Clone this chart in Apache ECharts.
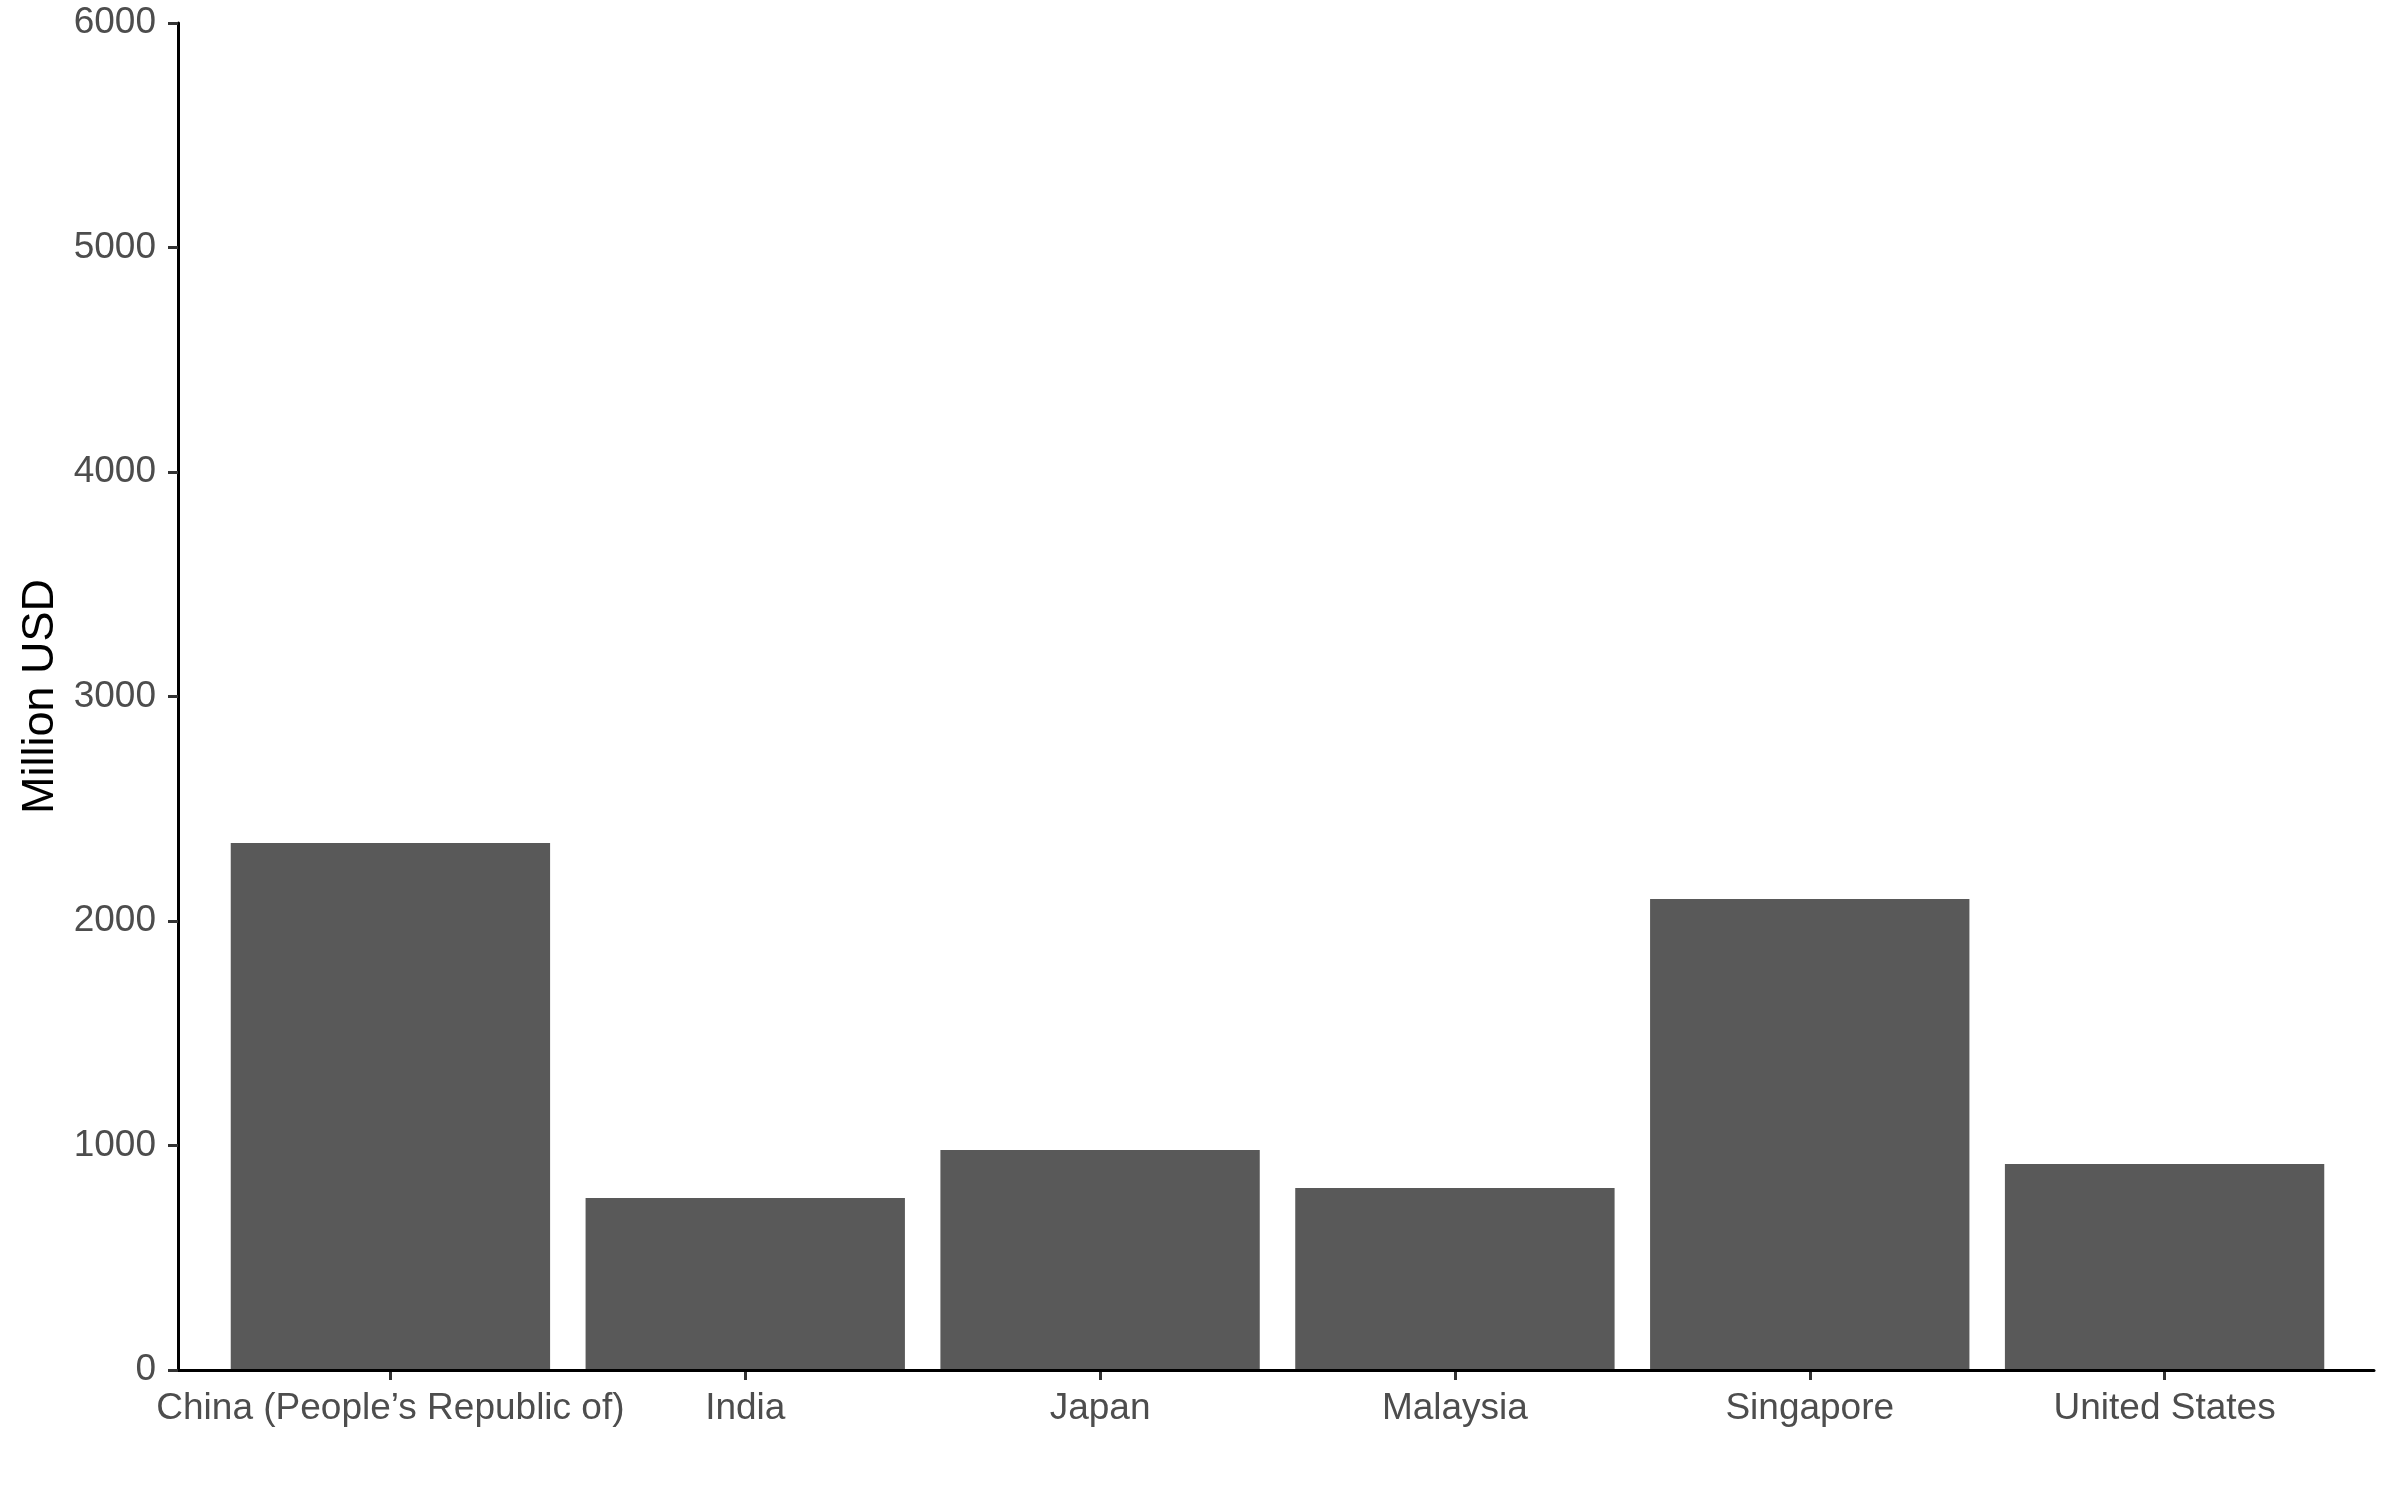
<!DOCTYPE html>
<html>
<head>
<meta charset="utf-8">
<script src="https://cdn.jsdelivr.net/npm/echarts@6/dist/echarts.min.js"></script>
<style>
  html, body { margin: 0; padding: 0; background: #fff; }
  #chart { width: 2400px; height: 1500px; }
</style>
</head>
<body>
<div id="chart"></div>
<script>
// data
const countries = ["China (People\u2019s Republic of)", "India", "Japan", "Malaysia", "Singapore", "United States"];
const valuesUsd = [2347, 766, 980, 811, 2098, 918];
const yTicks = { min: 0, max: 6000, step: 1000 };

const font = "Liberation Sans";
const chart = echarts.init(document.getElementById("chart"));

let option = {
  backgroundColor: "#ffffff",
  animation: false,
  grid: [
    // outer grid: carries the axis lines (ggplot style expansion)
    { left: 178, right: 26, top: 23, bottom: 130 },
    // inner grid: the bars, 0.6 band of padding on each side
    { left: 213, right: 58, top: 23, bottom: 130 },
  ],
  xAxis: [
    {
      gridIndex: 0,
      type: "value",
      min: 0,
      max: 1,
      z: 5,
      axisLine: { show: true, lineStyle: { color: "#000", width: 3 } },
      axisTick: { show: false },
      axisLabel: { show: false },
      splitLine: { show: false },
    },
    {
      gridIndex: 1,
      type: "category",
      data: countries,
      axisLine: { show: false },
      axisTick: {
        show: true,
        alignWithLabel: true,
        length: 10,
        lineStyle: { color: "#333", width: 3 },
      },
      axisLabel: {
        interval: 0,
        margin: 20,
        color: "#4d4d4d",
        fontSize: 37,
        fontFamily: font,
      },
      splitLine: { show: false },
    },
  ],
  yAxis: [
    {
      gridIndex: 0,
      type: "value",
      min: yTicks.min,
      max: yTicks.max,
      interval: yTicks.step,
      z: 5,
      name: "Million USD",
      nameLocation: "middle",
      nameGap: 115,
      nameTextStyle: { color: "#000", fontSize: 45, fontFamily: font },
      axisLine: { show: true, lineStyle: { color: "#000", width: 3 } },
      axisTick: { show: true, length: 10, lineStyle: { color: "#333", width: 3 } },
      axisLabel: {
        margin: 22,
        color: "#4d4d4d",
        fontSize: 37,
        fontFamily: font,
        formatter: (v) => String(v),
      },
      splitLine: { show: false },
    },
    {
      gridIndex: 1,
      type: "value",
      min: yTicks.min,
      max: yTicks.max,
      interval: yTicks.step,
      show: false,
      splitLine: { show: false },
    },
  ],
  series: [
    {
      type: "bar",
      xAxisIndex: 1,
      yAxisIndex: 1,
      data: valuesUsd,
      barCategoryGap: "10%",
      itemStyle: { color: "#595959" },
    },
  ],
};
chart.setOption(option);
</script>
</body>
</html>
